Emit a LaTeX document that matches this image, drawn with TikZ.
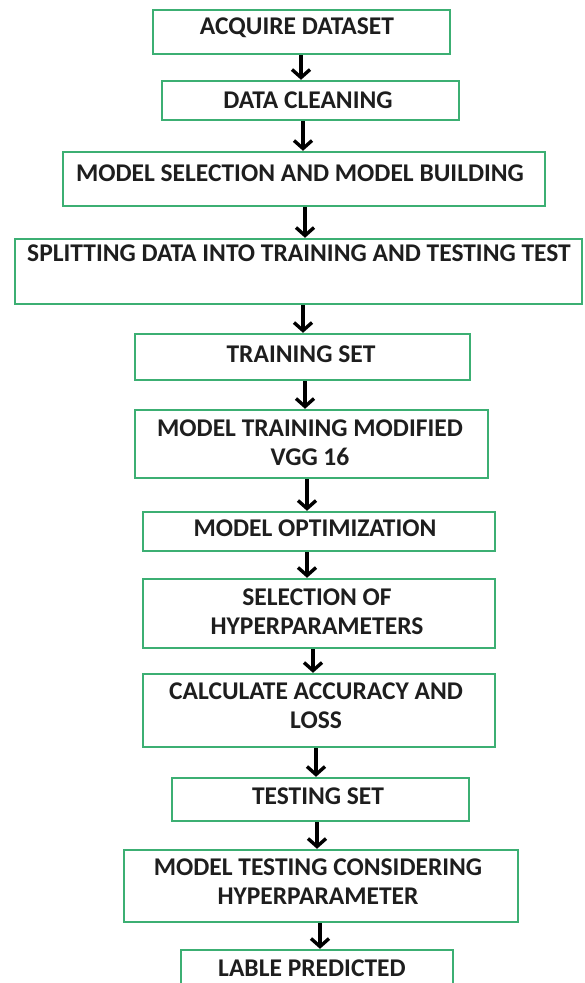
\documentclass[tikz,border=0pt]{standalone}
\usepackage{fontspec}
\setmainfont{Carlito}
\usetikzlibrary{arrows.meta}
\definecolor{boxgreen}{RGB}{60,175,115}
\definecolor{txt}{RGB}{30,30,30}
\tikzset{
  stepbox/.style={draw=boxgreen, line width=2.4pt, rectangle, inner sep=0pt, fill=white},
  lbl/.style={text=txt, font=\fontsize{25.5}{29}\selectfont\bfseries, align=center, inner sep=0pt},
  arr/.style={line width=3.4pt, -{Straight Barb[length=8pt,width=18pt,line width=3.4pt]}}
}
\newcommand{\mybox}[5]{% name, x1, x2, y1, y2
  \node[stepbox, minimum width={#3-#2}, minimum height={#5-#4}] (#1) at ({(#2+#3)/2},{(#4+#5)/2}) {};}
\begin{document}
\begin{tikzpicture}[x=1pt,y=-1pt]
\useasboundingbox[fill=white] (0,0) rectangle (584,983);
\mybox{b1}{153}{450}{10}{54}
\mybox{b2}{162}{459}{81}{120}
\mybox{b3}{63}{545}{152}{206}
\mybox{b4}{15}{582}{239}{304}
\mybox{b5}{135}{470}{334}{380}
\mybox{b6}{135}{488}{410}{478}
\mybox{b7}{143}{495}{512}{551}
\mybox{b8}{143}{495}{579}{648}
\mybox{b9}{143}{495}{674}{747}
\mybox{b10}{172}{469}{778}{821}
\mybox{b11}{124}{518}{850}{922}
\mybox{b12}{181}{453}{950}{995}
\node[lbl] (t1) at (297,28) {ACQUIRE DATASET};
\node[lbl] (t2) at (308,100) {DATA CLEANING};
\node[lbl] (t3) at (300,173) {MODEL SELECTION AND MODEL BUILDING};
\node[lbl] (t4) at (299,253) {SPLITTING DATA INTO TRAINING AND TESTING TEST};
\node[lbl] (t5) at (301,354) {TRAINING SET};
\node[lbl] (t6) at (310,443) {MODEL TRAINING MODIFIED\\VGG 16};
\node[lbl] (t7) at (315,528) {MODEL OPTIMIZATION};
\node[lbl] (t8) at (317,612) {SELECTION OF\\HYPERPARAMETERS};
\node[lbl] (t9) at (316,706) {CALCULATE ACCURACY AND\\LOSS};
\node[lbl] (t10) at (318,796) {TESTING SET};
\node[lbl] (t11) at (318,882) {MODEL TESTING CONSIDERING\\HYPERPARAMETER};
\node[lbl] (t12) at (312,968) {LABLE PREDICTED};
\draw[arr] (b1.south -| 301,0) -- (b2.north -| 301,0);
\draw[arr] (b2.south -| 303,0) -- (b3.north -| 303,0);
\draw[arr] (b3.south -| 305,0) -- (b4.north -| 305,0);
\draw[arr] (b4.south -| 303,0) -- (b5.north -| 303,0);
\draw[arr] (b5.south -| 305,0) -- (b6.north -| 305,0);
\draw[arr] (b6.south -| 307,0) -- (b7.north -| 307,0);
\draw[arr] (b7.south -| 307,0) -- (b8.north -| 307,0);
\draw[arr] (b8.south -| 313,0) -- (b9.north -| 313,0);
\draw[arr] (b9.south -| 316,0) -- (b10.north -| 316,0);
\draw[arr] (b10.south -| 317,0) -- (b11.north -| 317,0);
\draw[arr] (b11.south -| 320,0) -- (b12.north -| 320,0);
\end{tikzpicture}
\end{document}
